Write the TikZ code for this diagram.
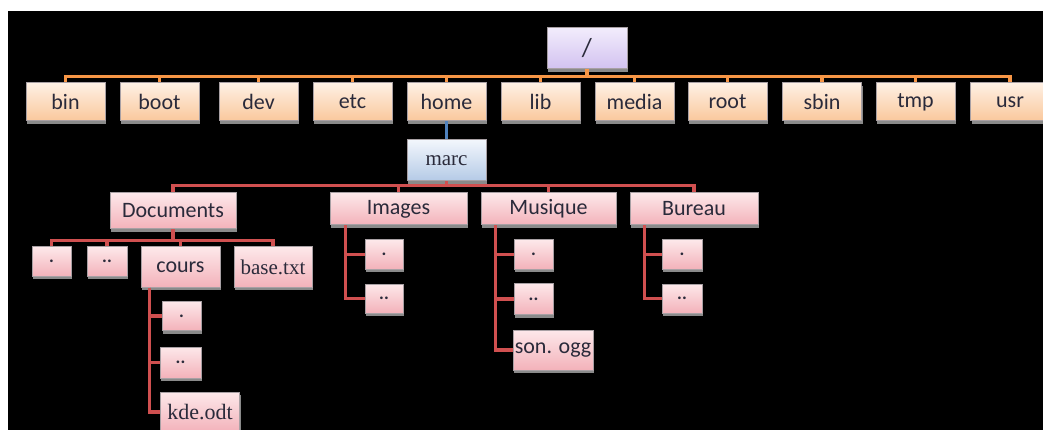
\documentclass[tikz,border=0pt]{standalone}
\usepackage{fontspec}
\setmainfont{Carlito}
\newfontfamily\serifb{Liberation Serif}
\usetikzlibrary{shadows}
\definecolor{peachT}{HTML}{FEF0E4}
\definecolor{peachB}{HTML}{FAC89C}
\definecolor{lavT}{HTML}{F2ECFC}
\definecolor{lavB}{HTML}{D2C2F0}
\definecolor{bluT}{HTML}{F2F6FC}
\definecolor{bluB}{HTML}{B4CAE6}
\definecolor{pinkT}{HTML}{FDE8EA}
\definecolor{pinkB}{HTML}{F3B2BA}
\definecolor{boxgray}{HTML}{A8A0A4}
\definecolor{shgray}{HTML}{8A8A8A}
\definecolor{txt}{HTML}{2A2A3A}
\definecolor{orangeline}{HTML}{F79646}
\definecolor{redline}{HTML}{D05050}
\definecolor{blueline}{HTML}{4F81BD}
\tikzset{
  box/.style={draw=boxgray, line width=1pt, inner sep=0pt, text=txt,
    font=\fontsize{22}{26}\selectfont,
    drop shadow={shadow xshift=1pt, shadow yshift=-3pt, fill=shgray, opacity=1}},
  peach/.style={box, top color=peachT, bottom color=peachB, minimum width=79pt, minimum height=38pt},
  lav/.style={box, top color=lavT, bottom color=lavB},
  blu/.style={box, top color=bluT, bottom color=bluB},
  pink/.style={box, top color=pinkT, bottom color=pinkB},
  dotbox/.style={pink, minimum width=39pt, minimum height=29pt, font=\fontsize{18}{20}\selectfont\bfseries},
  filebox/.style={pink, minimum width=79pt, minimum height=40pt},
  conn/.style={line width=3.5pt},
  oconn/.style={conn, draw=orangeline},
  rconn/.style={conn, draw=redline},
  bconn/.style={conn, draw=blueline}
}
\begin{document}
\begin{tikzpicture}[x=1pt, y=-1pt]
\useasboundingbox (0,0) rectangle (1043,430);
\fill[white] (0,0) rectangle (1043,430);
\fill[black] (8,11) rectangle (1043,430);
% root
\node[lav, minimum width=80pt, minimum height=41pt, font=\fontsize{26}{30}\selectfont] (root) at (587,48.5) {/};
% level 1
\node[peach] (bin)   at (65.5,102) {bin};
\node[peach] (boot)  at (159.5,102) {boot};
\node[peach] (dev)   at (258.5,102) {dev};
\node[peach] (etc)   at (352.5,102) {etc};
\node[peach] (home)  at (446.5,102) {home};
\node[peach] (lib)   at (540.5,102) {lib};
\node[peach] (media) at (634.5,102) {media};
\node[peach] (rootd) at (727.5,102) {root};
\node[peach] (sbin)  at (822,102) {sbin};
\node[peach] (tmp)   at (915.5,102) {tmp};
\node[peach] (usr)   at (1010,102) {usr};
\foreach \n in {bin,boot,dev,etc,home,lib,media,rootd,sbin,tmp,usr}
  \draw[oconn] (root.south) -- ++(0,7) -| (\n.north);
% marc
\node[blu, minimum width=79pt, minimum height=41pt, font=\serifb\fontsize{21}{24}\selectfont] (marc) at (446.5,160.5) {marc};
\draw[bconn] (home.south) -- (marc.north);
% level 2
\node[pink, minimum width=126pt, minimum height=36pt] (docs) at (173,211) {Documents};
\node[pink, minimum width=137pt, minimum height=32pt] (imgs) at (398.5,209) {Images};
\node[pink, minimum width=135pt, minimum height=32pt] (musq) at (548.5,209) {Musique};
\node[pink, minimum width=128pt, minimum height=32pt] (bur) at (694,209) {Bureau};
\foreach \n in {docs,imgs,musq,bur}
  \draw[rconn] (marc.south) -- ++(0,4) -| (\n.north);
% Documents children
\node[dotbox] (d1) at (51.5,261.5) {.};
\node[dotbox, minimum width=40pt] (d2) at (107,261.5) {..};
\node[filebox] (cours) at (180.5,267) {cours};
\node[filebox, minimum width=78pt, font=\serifb\fontsize{21}{24}\selectfont] (base) at (273,267) {base.txt};
\foreach \n in {d1,d2,cours,base}
  \draw[rconn] (docs.south) -- ++(0,11) -| (\n.north);
% cours children
\node[dotbox] (c1) at (181.5,316) {.};
\node[dotbox, minimum width=41pt, minimum height=31pt] (c2) at (180.5,362.5) {..};
\node[filebox, font=\serifb\fontsize{22}{26}\selectfont] (kde) at (200,412) {kde.odt};
\foreach \n in {c1,c2,kde}
  \draw[rconn] ([xshift=9pt]cours.south west) |- (\n.west);
% Images children
\node[dotbox, minimum width=38pt] (i1) at (384,254.5) {.};
\node[dotbox, minimum width=38pt] (i2) at (384,298.5) {..};
\foreach \n in {i1,i2}
  \draw[rconn] ([xshift=16pt]imgs.south west) |- (\n.west);
% Musique children
\node[dotbox] (m1) at (533.5,254.5) {.};
\node[dotbox, minimum height=31pt] (m2) at (533.5,299) {..};
\node[filebox, minimum width=80pt] (son) at (553,350) {son. ogg};
\foreach \n in {m1,m2,son}
  \draw[rconn] ([xshift=15pt]musq.south west) |- (\n.west);
% Bureau children
\node[dotbox, minimum width=40pt] (b1) at (682,254.5) {.};
\node[dotbox, minimum width=40pt] (b2) at (682,298.5) {..};
\foreach \n in {b1,b2}
  \draw[rconn] ([xshift=15pt]bur.south west) |- (\n.west);
\end{tikzpicture}
\end{document}
